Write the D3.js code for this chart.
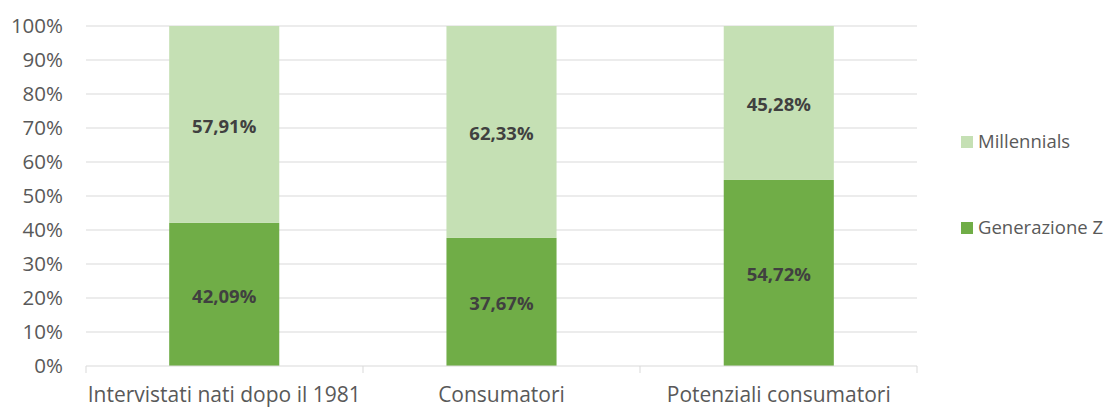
<!DOCTYPE html>
<html>
<head>
<meta charset="utf-8">
<script src="https://cdn.jsdelivr.net/npm/d3@7"></script>
<style>
body { margin: 0; background: #fff; }
text { font-family: "Open Sans", sans-serif; }
</style>
</head>
<body>
<svg id="chart" width="1104" height="407"></svg>
<script>
// data
var categories = ["Intervistati nati dopo il 1981", "Consumatori", "Potenziali consumatori"];
var genZ = [42.09, 37.67, 54.72];
var millennials = [57.91, 62.33, 45.28];
var seriesNames = ["Generazione Z", "Millennials"];
var yTicks = [0, 10, 20, 30, 40, 50, 60, 70, 80, 90, 100];

var colors = { "Generazione Z": "#70AD47", "Millennials": "#C5E0B4" };

var plotLeft = 86, plotRight = 917, plotTop = 26, plotBottom = 366;

var svg = d3.select("#chart");

var xs = d3.scaleBand().domain(categories).range([plotLeft, plotRight]).paddingInner(0.603).paddingOuter(0.3);
var ys = d3.scaleLinear().domain([0, 100]).range([plotBottom, plotTop]);

// gridlines
svg.append("g")
  .selectAll("line")
  .data(yTicks.filter(d => d > 0))
  .join("line")
  .attr("x1", plotLeft).attr("x2", plotRight)
  .attr("y1", d => ys(d)).attr("y2", d => ys(d))
  .attr("stroke", "#D9D9D9").attr("stroke-width", 1);

// y labels
svg.append("g")
  .selectAll("text")
  .data(yTicks)
  .join("text")
  .attr("x", 63)
  .attr("y", d => ys(d))
  .attr("dy", "0.35em")
  .attr("text-anchor", "end")
  .attr("fill", "#595959")
  .style("font-size", "20.5px")
  .text(d => d + "%");

// stacked data
var rows = categories.map((c, i) => ({ cat: c, "Generazione Z": genZ[i], "Millennials": millennials[i] }));
var stacked = d3.stack().keys(seriesNames)(rows);

var layers = svg.append("g")
  .selectAll("g")
  .data(stacked)
  .join("g")
  .attr("fill", d => colors[d.key]);

layers.selectAll("rect")
  .data(d => d)
  .join("rect")
  .attr("x", d => xs(d.data.cat))
  .attr("width", xs.bandwidth())
  .attr("y", d => ys(d[1]))
  .attr("height", d => ys(d[0]) - ys(d[1]));

// value labels
layers.selectAll("text")
  .data(d => d)
  .join("text")
  .attr("x", d => xs(d.data.cat) + xs.bandwidth() / 2)
  .attr("y", d => ys((d[0] + d[1]) / 2) + 2)
  .attr("dy", "0.35em")
  .attr("text-anchor", "middle")
  .attr("fill", "#404040")
  .style("font-size", "18.5px")
  .style("font-weight", "bold")
  .text(d => (d[1] - d[0]).toFixed(2).replace(".", ",") + "%");

// x axis
svg.append("line")
  .attr("x1", plotLeft).attr("x2", plotRight)
  .attr("y1", plotBottom).attr("y2", plotBottom)
  .attr("stroke", "#D9D9D9");

var step = (plotRight - plotLeft) / categories.length;
svg.append("g")
  .selectAll("line")
  .data(d3.range(categories.length + 1))
  .join("line")
  .attr("x1", d => plotLeft + d * step).attr("x2", d => plotLeft + d * step)
  .attr("y1", plotBottom).attr("y2", plotBottom + 7)
  .attr("stroke", "#D9D9D9");

svg.append("g")
  .selectAll("text")
  .data(categories)
  .join("text")
  .attr("x", d => xs(d) + xs.bandwidth() / 2)
  .attr("y", 395)
  .attr("dy", "0.35em")
  .attr("text-anchor", "middle")
  .attr("fill", "#595959")
  .style("font-size", "21px")
  .text(d => d);

// legend
var legendY = { "Millennials": 142, "Generazione Z": 228 };
var legend = svg.append("g")
  .selectAll("g")
  .data(["Millennials", "Generazione Z"])
  .join("g")
  .attr("transform", d => "translate(961," + legendY[d] + ")");

legend.append("rect")
  .attr("x", 0).attr("y", -6)
  .attr("width", 12).attr("height", 12)
  .attr("fill", d => colors[d]);

legend.append("text")
  .attr("x", 17)
  .attr("y", 0)
  .attr("dy", "0.35em")
  .attr("fill", "#595959")
  .style("font-size", "18.5px")
  .text(d => d);
</script>
</body>
</html>
